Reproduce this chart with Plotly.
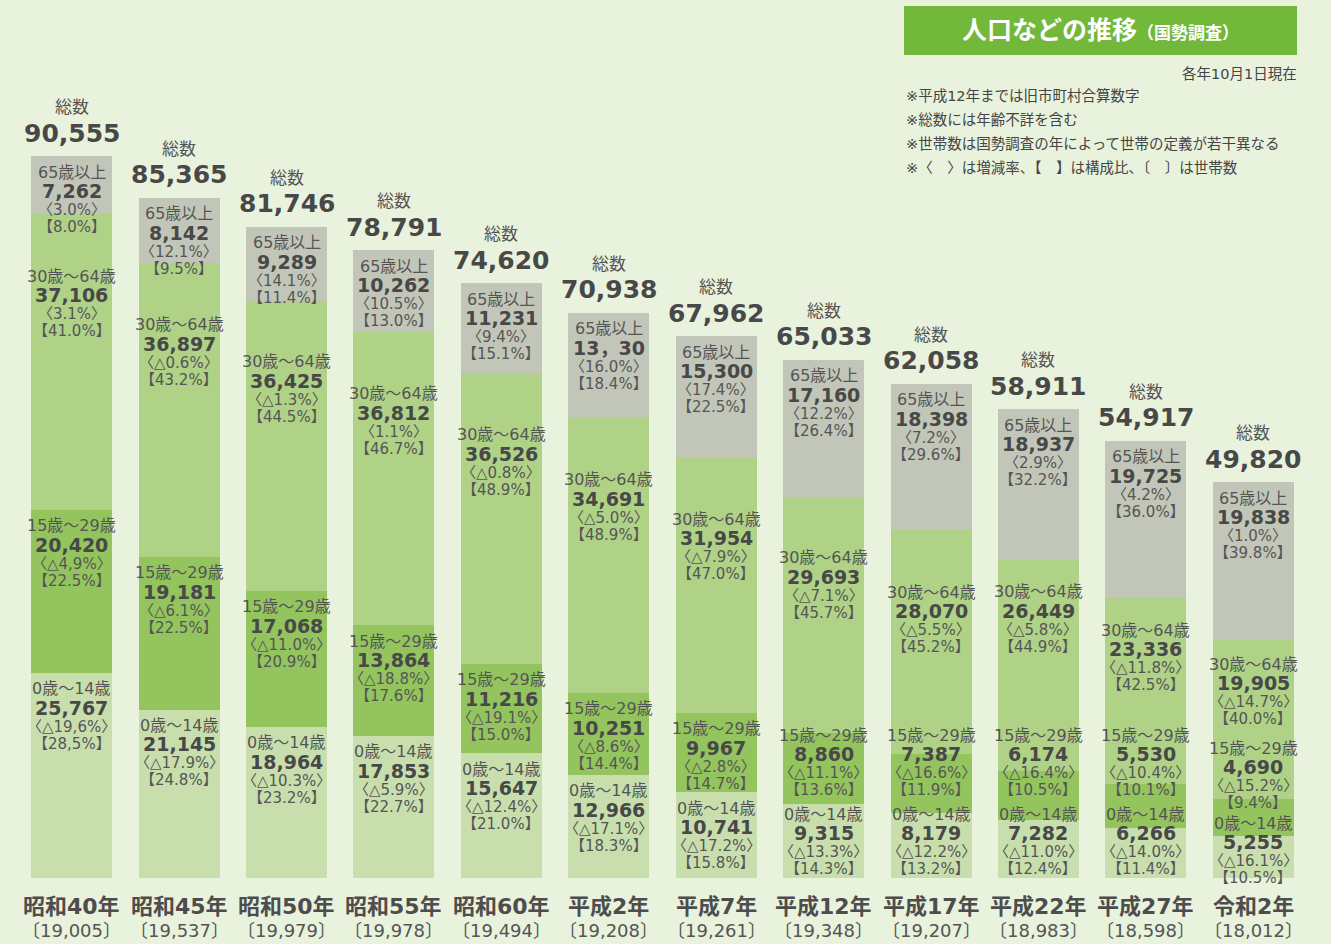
import plotly.graph_objects as go

# ---------------- data ----------------
categories = ["昭和40年", "昭和45年", "昭和50年", "昭和55年", "昭和60年", "平成2年",
              "平成7年", "平成12年", "平成17年", "平成22年", "平成27年", "令和2年"]
households = [19005, 19537, 19979, 19978, 19494, 19208, 19261, 19348, 19207, 18983, 18598, 18012]
totals = [90555, 85365, 81746, 78791, 74620, 70938, 67962, 65033, 62058, 58911, 54917, 49820]

age_0_14 = [25767, 21145, 18964, 17853, 15647, 12966, 10741, 9315, 8179, 7282, 6266, 5255]
age_15_29 = [20420, 19181, 17068, 13864, 11216, 10251, 9967, 8860, 7387, 6174, 5530, 4690]
age_30_64 = [37106, 36897, 36425, 36812, 36526, 34691, 31954, 29693, 28070, 26449, 23336, 19905]
age_65 = [7262, 8142, 9289, 10262, 11231, 13030, 15300, 17160, 18398, 18937, 19725, 19838]

chg_0_14 = ["△19,6", "△17.9", "△10.3", "△5.9", "△12.4", "△17.1", "△17.2", "△13.3", "△12.2", "△11.0", "△14.0", "△16.1"]
share_0_14 = ["28,5", "24.8", "23.2", "22.7", "21.0", "18.3", "15.8", "14.3", "13.2", "12.4", "11.4", "10.5"]
chg_15_29 = ["△4,9", "△6.1", "△11.0", "△18.8", "△19.1", "△8.6", "△2.8", "△11.1", "△16.6", "△16.4", "△10.4", "△15.2"]
share_15_29 = ["22.5", "22.5", "20.9", "17.6", "15.0", "14.4", "14.7", "13.6", "11.9", "10.5", "10.1", "9.4"]
chg_30_64 = ["3.1", "△0.6", "△1.3", "1.1", "△0.8", "△5.0", "△7.9", "△7.1", "△5.5", "△5.8", "△11.8", "△14.7"]
share_30_64 = ["41.0", "43.2", "44.5", "46.7", "48.9", "48.9", "47.0", "45.7", "45.2", "44.9", "42.5", "40.0"]
chg_65 = ["3.0", "12.1", "14.1", "10.5", "9.4", "16.0", "17.4", "12.2", "7.2", "2.9", "4.2", "1.0"]
share_65 = ["8.0", "9.5", "11.4", "13.0", "15.1", "18.4", "22.5", "26.4", "29.6", "32.2", "36.0", "39.8"]

seg_names = ["0歳～14歳", "15歳～29歳", "30歳～64歳", "65歳以上"]

title_main = "人口などの推移"
title_sub = "（国勢調査）"
date_note = "各年10月1日現在"
notes = ["※平成12年までは旧市町村合算数字",
         "※総数には年齢不詳を含む",
         "※世帯数は国勢調査の年によって世帯の定義が若干異なる",
         "※〈　〉は増減率、【　】は構成比、〔　〕は世帯数"]

# ---------------- style / layout ----------------
W, H = 1331, 944
M_L, M_R, M_T, M_B = 18, 24, 60, 66
PLOT_W = W - M_L - M_R
PLOT_H = H - M_T - M_B
BOTTOM = H - M_B                 # pixel row of the baseline
PX = 0.007969                    # pixels per person
Y_MAX = PLOT_H / PX

BG = "#e9f2dc"
COLORS = ["#c8dfad", "#93c45d", "#afd287", "#c2c6b8"]
TXT = "#555555"
NUM = "#484848"
FONT = "DejaVu Sans, Noto Sans CJK JP, sans-serif"

LINE_OFF = [0, 19, 38, 55]
TOP_OFF = 16
MID_OFF = [62, 62, 61, 62, 62, 63, 61, 61, 62, 32, 32, 24]
FLOOR = [814] * 11 + [823]
GAP = [79] * 11 + [75]


def ydata(y_px):
    return (BOTTOM - y_px) / PX


def xpaper(x_px):
    return (x_px - M_L) / PLOT_W


def ypaper(y_px):
    return (BOTTOM - y_px) / PLOT_H


fig = go.Figure()
series = [age_0_14, age_15_29, age_30_64, age_65]
for name, vals, col in zip(seg_names, series, COLORS):
    fig.add_trace(go.Bar(x=categories, y=vals, name=name, marker=dict(color=col, line=dict(width=0)),
                         hoverinfo="skip"))

ann = []


def add_text(x, y_px, text, size, color, bold=False, yref="y"):
    yv = ydata(y_px) if yref == "y" else ypaper(y_px)
    ann.append(dict(x=x, y=yv, xref="x", yref=yref,
                    text=f"<b>{text}</b>" if bold else text, showarrow=False,
                    xanchor="center", yanchor="middle",
                    font=dict(family=FONT, size=size, color=color)))


chgs = [chg_0_14, chg_15_29, chg_30_64, chg_65]
shares = [share_0_14, share_15_29, share_30_64, share_65]

for i in range(len(categories)):
    cum = 0
    tops = []
    for s in series:
        cum += s[i]
        tops.append(BOTTOM - cum * PX)
    y0 = min(tops[0] + TOP_OFF, FLOOR[i])
    y1 = min(tops[1] + TOP_OFF, y0 - GAP[i])
    y2 = tops[2] + MID_OFF[i]
    y3 = tops[3] + TOP_OFF
    starts = [y0, y1, y2, y3]
    for k in range(4):
        num_txt = f"{series[k][i]:,}"
        if k == 3 and i == 5:
            num_txt = "13，30"
        lines = [(seg_names[k], 16, TXT, False),
                 (num_txt, 19, NUM, True),
                 (f"〈{chgs[k][i]}%〉", 15, TXT, False),
                 (f"【{shares[k][i]}%】", 15, TXT, False)]
        for (t, sz, c, b), off in zip(lines, LINE_OFF):
            add_text(i, starts[k] + off, t, sz, c, b, yref="paper")
    # totals
    top_all = tops[3]
    add_text(i, top_all - 49, "総数", 17, TXT, yref="paper")
    add_text(i, top_all - 23, f"{totals[i]:,}", 25, NUM, True, yref="paper")
    # category labels
    add_text(i, 906, categories[i], 22, "#4d4d4d", True, yref="paper")
    add_text(i, 930, f"〔{households[i]:,}〕", 18, TXT, yref="paper")

# header box
ann.append(dict(x=xpaper(1100.5), y=ypaper(30.5), xref="paper", yref="paper",
                text=f"<b>{title_main}</b><span style='font-size:17px'><b>{title_sub}</b></span>",
                showarrow=False, xanchor="center", yanchor="middle",
                width=393, height=49, bgcolor="#72b83a", borderpad=0, borderwidth=0,
                font=dict(family=FONT, size=25, color="#ffffff")))
ann.append(dict(x=xpaper(1299), y=ypaper(74), xref="paper", yref="paper", text=date_note,
                showarrow=False, xanchor="right", yanchor="middle",
                font=dict(family=FONT, size=14.5, color="#444444")))
for j, n in enumerate(notes):
    ann.append(dict(x=xpaper(904), y=ypaper(96 + 24 * j), xref="paper", yref="paper", text=n,
                    showarrow=False, xanchor="left", yanchor="middle",
                    font=dict(family=FONT, size=14.5, color="#444444")))

fig.update_layout(
    width=W, height=H, barmode="stack", bargap=0.246,
    paper_bgcolor=BG, plot_bgcolor=BG, showlegend=False,
    margin=dict(l=M_L, r=M_R, t=M_T, b=M_B, pad=0),
    xaxis=dict(type="category", range=[-0.5, len(categories) - 0.5], visible=False, fixedrange=True),
    yaxis=dict(range=[0, Y_MAX], visible=False, fixedrange=True),
    annotations=ann,
)

fig.write_html("out.html", config={"displayModeBar": False})
